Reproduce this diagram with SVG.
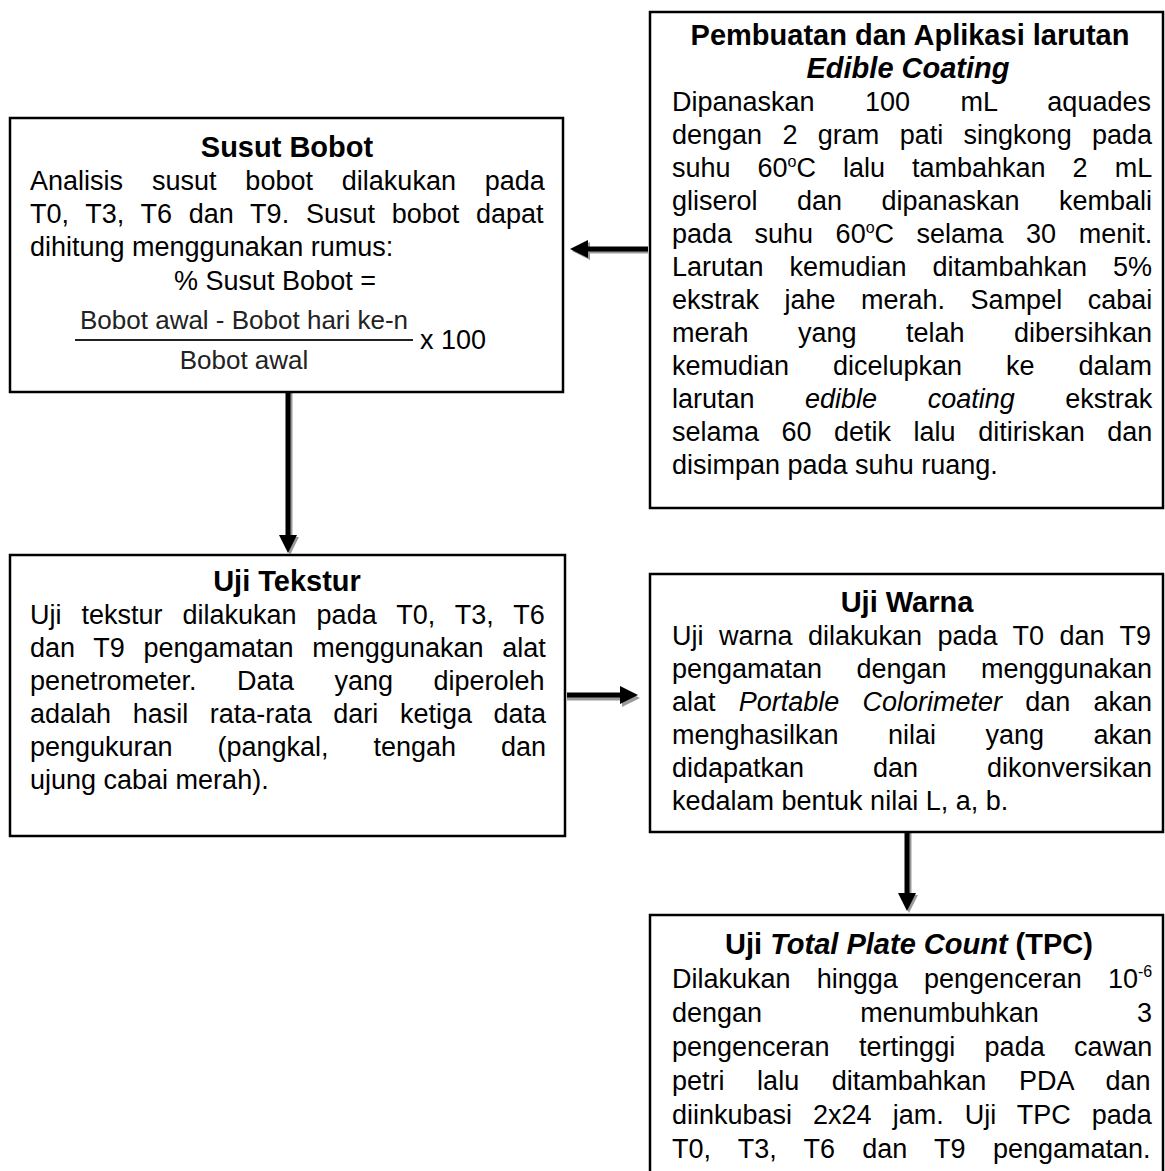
<svg xmlns="http://www.w3.org/2000/svg" width="1165" height="1171" viewBox="0 0 1165 1171">
<style>
.box{fill:#fff;stroke:#000;stroke-width:2.5}
text{font-family:"Liberation Sans",Arial,sans-serif;font-size:27px;fill:#000}
.h{font-weight:bold;text-anchor:middle;font-size:29px}
.c{text-anchor:middle}
.f{font-size:26px;fill:#222}
.shaft{stroke:#000;stroke-width:5;fill:none}
.shadow{stroke:#9a9a9a;stroke-width:5;fill:none}
.head{fill:#000}
.headsh{fill:#9a9a9a}
</style>
<rect width="1165" height="1171" fill="#fff"/>
<g id="connectors">
  <!-- B to A (leftward) -->
  <line class="shadow" x1="648" y1="251" x2="588" y2="251"/>
  <polygon class="headsh" points="572,251 590,242 590,260"/>
  <line class="shaft" x1="648" y1="249" x2="586" y2="249"/>
  <polygon class="head" points="570,249 588,240 588,258"/>
  <!-- A to C (down) -->
  <line class="shadow" x1="290" y1="393" x2="290" y2="538"/>
  <polygon class="headsh" points="290,555 281,537 299,537"/>
  <line class="shaft" x1="288" y1="393" x2="288" y2="536"/>
  <polygon class="head" points="288,553 279,535 297,535"/>
  <!-- C to D (right) -->
  <line class="shadow" x1="567" y1="698" x2="622" y2="698"/>
  <polygon class="headsh" points="640,698 622,689 622,707"/>
  <line class="shaft" x1="567" y1="695" x2="624" y2="695"/>
  <polygon class="head" points="638,695 620,686 620,704"/>
  <!-- D to E (down) -->
  <line class="shadow" x1="909" y1="833" x2="909" y2="895"/>
  <polygon class="headsh" points="909,913 900,895 918,895"/>
  <line class="shaft" x1="907" y1="833" x2="907" y2="894"/>
  <polygon class="head" points="907,911 898,893 916,893"/>
</g>
<g id="susut-bobot">
  <rect class="box" x="10" y="118" width="553" height="274"/>
  <text class="h" x="287" y="157">Susut Bobot</text>
  <text x="30" y="190" style="word-spacing:21.4px">Analisis susut bobot dilakukan pada</text>
  <text x="30" y="223" style="word-spacing:9.25px">T0, T3, T6 dan T9. Susut bobot dapat</text>
  <text x="30" y="256">dihitung menggunakan rumus:</text>
  <text class="c" x="275" y="290">% Susut Bobot =</text>
  <text class="f" x="80" y="329">Bobot awal - Bobot hari ke-n</text>
  <line x1="75" y1="340" x2="413" y2="340" stroke="#222" stroke-width="2"/>
  <text x="420" y="349">x 100</text>
  <text class="f c" x="244" y="369">Bobot awal</text>
</g>
<g id="pembuatan">
  <rect class="box" x="650" y="12" width="513" height="496"/>
  <text class="h" x="910" y="45">Pembuatan dan Aplikasi larutan</text>
  <text class="h" x="908" y="77.5" font-style="italic">Edible Coating</text>
  <text x="672" y="110.5" style="word-spacing:42.9px">Dipanaskan 100 mL aquades</text>
  <text x="672" y="143.5" style="word-spacing:12.85px">dengan 2 gram pati singkong pada</text>
  <text x="672" y="176.5" style="word-spacing:19.5px">suhu 60<tspan dy="-10" font-size="16">o</tspan><tspan dy="10">C lalu tambahkan 2 mL</tspan></text>
  <text x="672" y="209.5" style="word-spacing:31.95px">gliserol dan dipanaskan kembali</text>
  <text x="672" y="242.5" style="word-spacing:15px">pada suhu 60<tspan dy="-10" font-size="16">o</tspan><tspan dy="10">C selama 30 menit.</tspan></text>
  <text x="672" y="275.5" style="word-spacing:18.4px">Larutan kemudian ditambahkan 5%</text>
  <text x="672" y="308.5" style="word-spacing:18px">ekstrak jahe merah. Sampel cabai</text>
  <text x="672" y="341.5" style="word-spacing:41.95px">merah yang telah dibersihkan</text>
  <text x="672" y="374.5" style="word-spacing:36.45px">kemudian dicelupkan ke dalam</text>
  <text x="672" y="407.5" style="word-spacing:43px">larutan <tspan font-style="italic">edible coating</tspan> ekstrak</text>
  <text x="672" y="440.5" style="word-spacing:15px">selama 60 detik lalu ditiriskan dan</text>
  <text x="672" y="473.5">disimpan pada suhu ruang.</text>
</g>
<g id="uji-tekstur">
  <rect class="box" x="10" y="555" width="555" height="281"/>
  <text class="h" x="287" y="591">Uji Tekstur</text>
  <text x="30" y="624" style="word-spacing:12.5px">Uji tekstur dilakukan pada T0, T3, T6</text>
  <text x="30" y="657" style="word-spacing:11.2px">dan T9 pengamatan menggunakan alat</text>
  <text x="30" y="690" style="word-spacing:32.9px">penetrometer. Data yang diperoleh</text>
  <text x="30" y="723" style="word-spacing:14.05px">adalah hasil rata-rata dari ketiga data</text>
  <text x="30" y="756" style="word-spacing:37.4px">pengukuran (pangkal, tengah dan</text>
  <text x="30" y="789">ujung cabai merah).</text>
</g>
<g id="uji-warna">
  <rect class="box" x="650" y="574" width="513" height="258"/>
  <text class="h" x="907" y="612">Uji Warna</text>
  <text x="672" y="645" style="word-spacing:7.96px">Uji warna dilakukan pada T0 dan T9</text>
  <text x="672" y="678" style="word-spacing:26.85px">pengamatan dengan menggunakan</text>
  <text x="672" y="711" style="word-spacing:15.7px">alat <tspan font-style="italic">Portable Colorimeter</tspan> dan akan</text>
  <text x="672" y="744" style="word-spacing:41.95px">menghasilkan nilai yang akan</text>
  <text x="672" y="777" style="word-spacing:61.4px">didapatkan dan dikonversikan</text>
  <text x="672" y="810">kedalam bentuk nilai L, a, b.</text>
</g>
<g id="uji-tpc">
  <rect class="box" x="650" y="915" width="513" height="300"/>
  <text class="h" x="909" y="954">Uji  <tspan font-style="italic">Total Plate Count</tspan> (TPC)</text>
  <text x="672" y="988" style="word-spacing:18.7px">Dilakukan hingga pengenceran 10<tspan dy="-11" font-size="16">-6</tspan></text>
  <text x="672" y="1022" style="word-spacing:90.65px">dengan menumbuhkan 3</text>
  <text x="672" y="1056" style="word-spacing:21.95px">pengenceran tertinggi pada cawan</text>
  <text x="672" y="1090" style="word-spacing:25.1px">petri lalu ditambahkan PDA dan</text>
  <text x="672" y="1124" style="word-spacing:13.5px">diinkubasi 2x24 jam. Uji TPC pada</text>
  <text x="672" y="1158" style="word-spacing:19.75px">T0, T3, T6 dan T9 pengamatan.</text>
</g>
</svg>
